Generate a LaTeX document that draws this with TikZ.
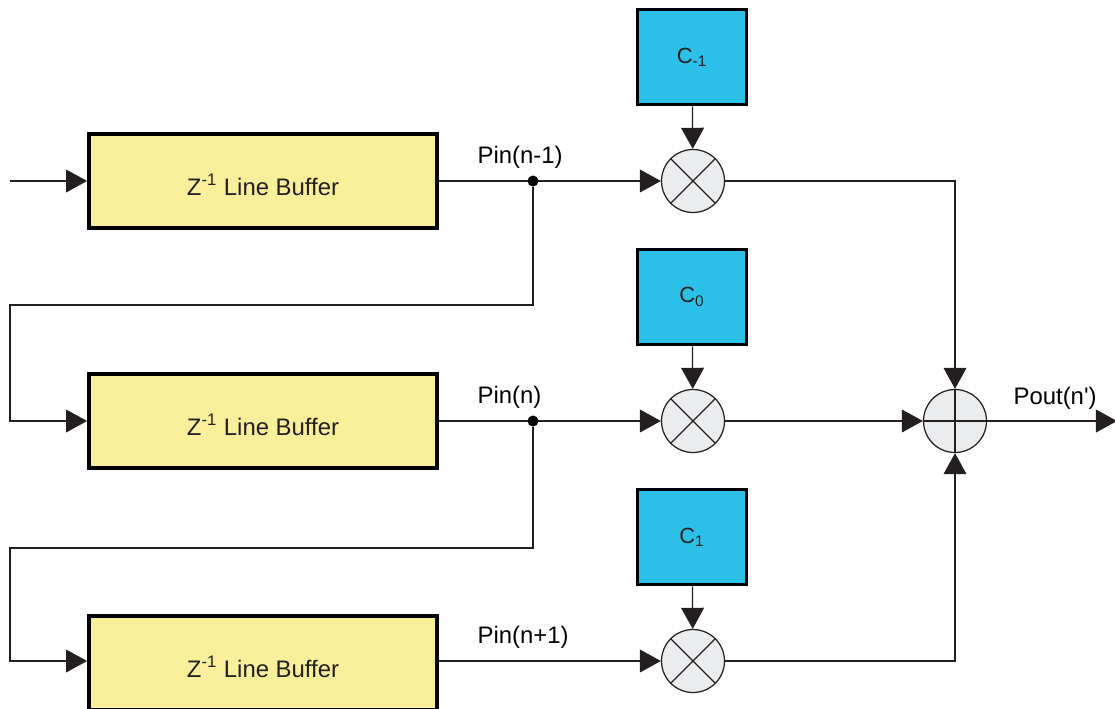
\documentclass[tikz,border=0pt]{standalone}
\usepackage{fontspec}
\setmainfont{Liberation Sans}
\usepackage{tikz}
\usetikzlibrary{arrows.meta,positioning,calc}

\definecolor{bufyellow}{HTML}{F9EF9B}
\definecolor{coefblue}{HTML}{2CC0E8}
\definecolor{opgray}{HTML}{EBECEE}
\definecolor{linedark}{HTML}{231F20}

\begin{document}
\begin{tikzpicture}[
  x=0.02cm, y=-0.02cm,
  >={Triangle[length=12pt,width=13pt]},
  color=linedark, line width=0.7pt,
  buffer/.style={draw=black, line width=2.2pt, fill=bufyellow, minimum width=6.96cm,
    minimum height=1.88cm, inner sep=0pt, text height=16pt, text depth=0pt,
    font=\fontsize{13.6}{16}\selectfont},
  coef/.style={draw=black, line width=2.2pt, fill=coefblue, minimum width=2.18cm,
    minimum height=1.9cm, inner sep=0pt, font=\fontsize{12.5}{14}\selectfont},
  mult/.style={circle, draw=linedark, fill=opgray, minimum size=1.26cm, inner sep=0pt,
    path picture={\draw[linedark, line width=0.7pt]
      (path picture bounding box.north west) -- (path picture bounding box.south east)
      (path picture bounding box.north east) -- (path picture bounding box.south west);}},
  adder/.style={circle, draw=linedark, fill=opgray, minimum size=1.26cm, inner sep=0pt,
    path picture={\draw[linedark, line width=0.7pt]
      (path picture bounding box.north) -- (path picture bounding box.south)
      (path picture bounding box.east) -- (path picture bounding box.west);}},
  dot/.style={circle, fill=black, draw=none, minimum size=0.22cm, inner sep=0pt},
  lab/.style={anchor=base west, inner sep=0pt, text=black, font=\fontsize{13.6}{16}\selectfont}
]
\useasboundingbox (0,0) rectangle (1115,708);

% Three taps: line buffer, coefficient, multiplier
\foreach \i/\y/\by/\c/\p in {1/181/181/{-1}/{Pin(n-1)}, 2/421/421/{0}/{Pin(n)},
                             3/661/663/{1}/{Pin(n+1)}}{
  \node[buffer] (buf\i) at (263,\by) {Z\textsuperscript{-1} Line Buffer};
  \node[mult] (mul\i) at (693,\y) {};
  \node[coef] (coef\i) at (692,\y-124) {C\textsubscript{\c}};
  \node[lab] (pin\i) at (477,\y-18) {\p};
  \draw[->] (coef\i) -- (mul\i);
  \draw[->] (buf\i.east |- mul\i) -- (mul\i);
}

% Input and delay chain
\coordinate (in) at (10,181);
\draw[->] (in) -- (buf1);

\node[dot] (dot1) at (533,181) {};
\node[dot] (dot2) at (533,421) {};
\coordinate (fb1) at (10,305);
\coordinate (fb2) at (10,548);
\draw[->] (dot1) |- (fb1) |- (buf2.west);
\draw[->] (dot2) |- (fb2) |- (buf3.west |- mul3);

% Summation and output
\node[adder] (add) at (955,421) {};
\draw[->] (mul1) -| (add);
\draw[->] (mul2) -- (add);
\draw[->] (mul3) -| (add);

\coordinate (out) at (1117,421);
\draw[->] (add) -- (out);
\node[lab] (pout) at (1013,404) {Pout(n\textquotesingle)};
\end{tikzpicture}
\end{document}
